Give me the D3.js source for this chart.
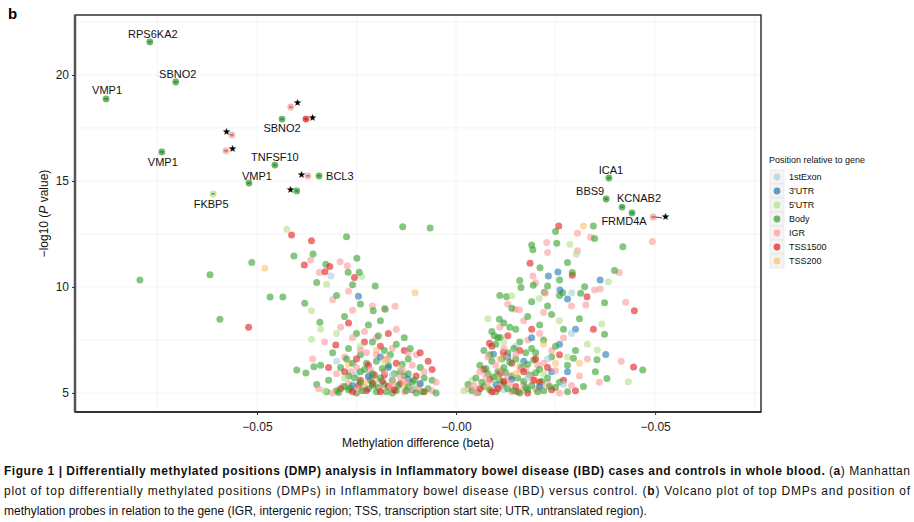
<!DOCTYPE html>
<html><head><meta charset="utf-8">
<script src="https://cdn.jsdelivr.net/npm/d3@7"></script>
<style>body{margin:0;background:#fff;font-family:"Liberation Sans",Arial,sans-serif}</style>
</head><body><svg id="c" width="914" height="522"></svg>
<script>
const categories=["1stExon","3'UTR","5'UTR","Body","IGR","TSS1500","TSS200"];
const colors=["#a6cee3","#1f78b4","#b2df8a","#33a02c","#fb9a99","#e31a1c","#fdbf6f"];
const xTicks=[-0.05,0,0.05];
const xTickLabels=["\u22120.05","\u22120.00","\u22120.05"];
const yTicks=[5,10,15,20];

const body=[[-0.030,5.1],[-0.028,5.3],[-0.025,5.0],[-0.022,5.2],[-0.020,5.05],[-0.018,5.4],[-0.015,5.1],[-0.012,5.3],[-0.010,5.0],[-0.007,5.2],[-0.032,5.6],[-0.027,5.8],[-0.024,5.5],[-0.021,5.9],[-0.019,5.7],[-0.016,5.6],[-0.013,5.8],[-0.011,5.5],[-0.008,5.7],[-0.029,6.2],[-0.026,6.4],[-0.023,6.1],[-0.020,6.5],[-0.017,6.3],[-0.014,6.0],[-0.012,6.6],[-0.009,6.2],[-0.031,6.9],[-0.027,7.1],[-0.024,6.8],[-0.021,7.4],[-0.018,7.0],[-0.015,7.3],[-0.013,7.6],[-0.025,7.8],[-0.022,8.2],[-0.028,8.6],[-0.019,8.4],[-0.024,9.2],[-0.030,9.6],[-0.026,10.1],[-0.035,5.4],[-0.034,6.3],[-0.006,5.6],[-0.005,5.0],[-0.016,5.0],[-0.021,5.35],[-0.027,5.15],[-0.012,5.9],[-0.024,6.0],
[-0.0134,12.84],[-0.0275,12.37],[-0.0513,11.15],[-0.0407,11.46],[-0.0359,11.56],[-0.0327,11.07],[-0.0271,10.69],[-0.0249,11.35],[-0.0243,10.69],[-0.035,10.21],[-0.0203,10.05],[-0.0467,9.53],[-0.0435,9.53],[-0.0593,8.48],[-0.038,9.23],[-0.040,6.08],[-0.0377,5.94],[-0.0357,6.23],[-0.0342,8.34],[-0.0178,8.95],[-0.0208,8.88],[-0.0794,10.33],[-0.0618,10.57],[-0.0065,12.78],
[-0.0295,5.02],[-0.0265,5.22],[-0.0235,5.1],[-0.0215,5.6],[-0.0195,5.25],[-0.0175,5.05],[-0.0145,5.35],[-0.0125,5.1],[-0.0105,5.6],[-0.0085,5.05],[-0.0255,5.7],[-0.0225,6.4],[-0.0185,6.15],[-0.0155,5.9],[-0.0135,6.35],[-0.0275,6.6],[-0.0195,7.7],[-0.0165,6.8],[-0.0115,7.1],[-0.0325,5.05],
[0.004,5.1],[0.007,5.3],[0.010,5.05],[0.013,5.2],[0.016,5.0],[0.019,5.35],[0.022,5.1],[0.025,5.25],[0.028,5.05],[0.005,5.7],[0.008,5.9],[0.011,5.6],[0.014,5.8],[0.017,5.55],[0.020,5.95],[0.023,5.7],[0.026,5.5],[0.006,6.3],[0.009,6.5],[0.012,6.2],[0.015,6.6],[0.018,6.35],[0.021,6.1],[0.024,6.7],[0.028,6.3],[0.007,7.0],[0.010,7.3],[0.013,6.9],[0.016,7.4],[0.019,7.1],[0.022,7.5],[0.025,7.2],[0.030,7.0],[0.009,7.9],[0.012,8.3],[0.015,8.0],[0.018,8.6],[0.021,8.2],[0.024,8.7],[0.014,9.0],[0.019,9.3],[0.032,5.3],[0.035,6.0],[0.003,5.4],[0.012,5.45],[0.018,5.15],[0.020,6.9],[0.027,8.0],[0.031,8.5],[0.011,9.6],[0.023,9.1],[0.016,10.3],[0.026,9.6],
[0.0055,5.02],[0.0085,5.15],[0.0115,5.35],[0.0145,5.1],[0.0175,5.25],[0.0205,5.05],[0.0235,5.3],[0.0065,5.5],[0.0095,5.75],[0.0125,5.95],[0.0155,5.7],[0.0185,5.85],[0.0215,5.55],[0.0075,6.15],[0.0105,6.0],[0.0135,6.45],[0.0165,6.2],[0.0195,6.55],[0.0085,6.8],[0.0115,6.6],[0.0145,7.1],[0.0175,6.9],[0.0105,7.6],[0.0135,8.1],
[0.0345,12.88],[0.025,12.61],[0.0348,12.28],[0.0419,11.9],[0.0253,12.06],[0.019,11.98],[0.0193,11.75],[0.0211,10.91],[0.028,11.15],[0.0292,10.68],[0.0398,10.77],[0.026,10.33],[0.0194,10.08],[0.0163,9.97],[0.023,10.05],[0.0323,10.01],[0.0222,9.75],[0.0268,9.73],[0.0127,9.54],[0.0313,9.7],[0.0109,8.48],[0.0373,9.26],[0.0373,7.77],[0.0469,6.08],[0.0379,5.68],[0.0354,6.56],[0.0295,6.64],[0.0096,7.7],[0.0111,7.61]];
const igr=[[-0.031,5.0],[-0.027,5.45],[-0.023,5.25],[-0.019,5.15],[-0.016,5.5],[-0.013,5.05],[-0.009,5.4],[-0.006,5.1],[-0.030,5.9],[-0.025,6.2],[-0.022,5.7],[-0.018,6.0],[-0.014,5.75],[-0.011,6.3],[-0.008,6.0],[-0.028,6.7],[-0.024,7.0],[-0.020,6.8],[-0.016,7.1],[-0.012,6.9],[-0.026,7.6],[-0.023,7.9],[-0.020,7.6],[-0.029,8.1],[-0.026,8.9],[-0.021,9.1],[-0.031,9.4],[-0.027,9.8],[-0.033,7.4],[-0.036,6.6],[-0.005,5.5],[-0.010,6.8],[-0.015,8.0],[-0.018,9.0],
[-0.0285,5.3],[-0.0245,5.15],[-0.0205,5.4],[-0.0165,5.25],[-0.0125,5.55],[-0.0095,5.2],[-0.0265,6.0],[-0.0215,6.1],[-0.0175,6.6],[-0.0135,6.1],[-0.0225,6.9],[-0.0345,5.2],
[-0.0365,11.27],[-0.0343,10.68],[-0.0291,11.19],[-0.0273,11.0],[-0.0153,9.09],
[0.005,5.0],[0.008,5.5],[0.011,5.3],[0.014,5.05],[0.017,5.4],[0.020,5.2],[0.023,5.45],[0.026,5.0],[0.029,5.35],[0.006,6.0],[0.010,6.3],[0.013,5.75],[0.016,6.1],[0.019,5.8],[0.022,6.4],[0.025,6.05],[0.031,5.8],[0.008,6.7],[0.012,7.1],[0.015,6.8],[0.018,7.5],[0.021,7.8],[0.024,7.0],[0.027,7.6],[0.033,6.6],[0.011,8.1],[0.017,8.4],[0.022,8.8],[0.029,9.1],[0.013,9.2],[0.003,5.2],[0.036,5.5],[0.020,10.2],
[0.0045,5.35],[0.0095,5.05],[0.0135,5.45],[0.0165,5.1],[0.0215,5.3],[0.0075,5.8],[0.0115,6.05],[0.0175,6.1],[0.0205,6.3],[0.0125,6.7],
[0.0305,12.53],[0.0338,12.34],[0.0493,12.14],[0.0228,12.1],[0.023,11.62],[0.0305,11.71],[0.041,10.68],[0.0193,10.52],[0.0348,9.86],[0.0362,9.9],[0.0224,9.7],[0.0326,9.15],[0.0426,9.28],[0.0148,8.95],[0.0159,8.92],[0.0415,6.49]];
const tss1500=[[-0.029,5.2],[-0.026,5.05],[-0.024,5.6],[-0.021,5.45],[-0.019,5.05],[-0.017,5.3],[-0.014,5.45],[-0.011,5.15],[-0.008,5.05],[-0.028,6.0],[-0.022,6.3],[-0.018,5.85],[-0.015,6.4],[-0.010,5.8],[-0.007,6.5],[-0.025,6.6],[-0.019,7.2],[-0.013,7.0],[-0.009,6.9],[-0.023,7.4],[-0.017,7.8],[-0.027,8.3],[-0.032,6.2],[-0.006,6.1],
[-0.0225,5.1],[-0.0185,5.55],[-0.0155,5.15],[-0.0205,5.85],[-0.0245,5.35],
[-0.0413,12.45],[-0.0363,12.18],[-0.0381,11.04],[-0.0317,10.96],[-0.0329,10.72],[-0.0255,10.45],[-0.0521,8.1],[-0.0302,7.26],
[0.006,5.2],[0.009,5.05],[0.012,5.55],[0.015,5.3],[0.018,5.0],[0.021,5.5],[0.024,5.15],[0.027,5.6],[0.007,6.1],[0.011,5.9],[0.014,6.4],[0.017,6.0],[0.020,6.6],[0.023,6.2],[0.009,7.2],[0.016,7.0],[0.026,6.8],[0.013,7.7],[0.030,5.1],[0.019,8.0],
[0.0105,5.2],[0.0155,5.05],[0.0195,5.6],[0.0085,5.65],
[0.0258,12.88],[0.0186,11.12],[0.0292,10.55],[0.0329,9.54],[0.0448,8.88],[0.0345,8.0],[0.0446,6.22],[0.0084,7.34],[0.0119,6.92]];
const utr5=[[-0.033,5.1],[-0.028,5.7],[-0.020,5.6],[-0.014,6.2],[-0.024,7.2],[-0.030,7.8],[-0.017,6.6],[-0.010,5.3],[-0.034,8.0],
[-0.0425,12.72],[-0.0237,10.49],[-0.0325,10.13],[-0.0363,8.88],[-0.0363,7.53],
[0.002,5.1],[0.004,5.6],[0.010,5.75],[0.016,6.3],[0.022,5.9],[0.028,6.7],[0.012,7.4],[0.033,7.3],[0.026,8.4],[0.008,8.5],
[0.0286,12.01],[0.0302,11.54],[0.0383,10.25],[0.014,9.58],[0.0209,9.45],[0.0366,8.25],[0.0433,5.53],[0.0355,7.03]];
const utr3=[[-0.022,5.8],[-0.017,6.2],[-0.026,5.35],[-0.012,5.65],[-0.019,6.7],[-0.009,5.45],[-0.0245,9.56],
[0.010,5.4],[0.014,5.65],[0.017,6.5],[0.021,5.3],[0.024,6.0],[0.019,7.6],[0.028,6.0],[0.013,6.7],[0.026,7.3],[0.030,8.0],
[0.0256,10.71],[0.0232,10.52],[0.0362,10.33],[0.0261,9.86],[0.028,9.43],[0.0376,6.81],[0.0094,6.82]];
const exon1=[[-0.025,5.9],[-0.016,5.85],[-0.030,6.5],[-0.011,5.2],[-0.0314,10.52],
[0.012,5.15],[0.018,5.7],[0.023,6.6],[0.027,5.4],[0.015,7.2],[0.029,7.8],[0.0291,9.73]];
const tss200=[[-0.023,5.5],[-0.018,6.5],[-0.027,6.35],[-0.013,5.35],[-0.020,7.0],[-0.048,10.88],[-0.0103,9.73],
[0.008,5.25],[0.015,5.9],[0.020,5.6],[0.025,6.4],[0.011,6.6],[0.022,7.3],[0.031,6.4],[0.032,12.88]];

const labelled=[
 {g:"RPS6KA2",c:"Body",x:-0.0769,y:21.56},
 {g:"SBNO2",c:"Body",x:-0.0704,y:19.67},
 {g:"VMP1",c:"Body",x:-0.0879,y:18.87},
 {g:"",c:"IGR",x:-0.0415,y:18.49,star:1},
 {g:"",c:"TSS1500",x:-0.0377,y:17.92,star:1},
 {g:"SBNO2",c:"Body",x:-0.0437,y:17.92},
 {g:"",c:"IGR",x:-0.0563,y:17.17,star:1},
 {g:"",c:"IGR",x:-0.0578,y:16.42,star:1},
 {g:"VMP1",c:"Body",x:-0.0739,y:16.37},
 {g:"TNFSF10",c:"Body",x:-0.0455,y:15.75},
 {g:"VMP1",c:"Body",x:-0.0520,y:14.90},
 {g:"",c:"IGR",x:-0.0372,y:15.24,star:1},
 {g:"BCL3",c:"Body",x:-0.0344,y:15.24},
 {g:"",c:"Body",x:-0.0400,y:14.53,star:1},
 {g:"FKBP5",c:"5'UTR",x:-0.0610,y:14.39},
 {g:"ICA1",c:"Body",x:0.0384,y:15.14},
 {g:"BBS9",c:"Body",x:0.0377,y:14.15},
 {g:"KCNAB2",c:"Body",x:0.0417,y:13.77},
 {g:"FRMD4A",c:"Body",x:0.0442,y:13.49},
 {g:"",c:"IGR",x:0.0495,y:13.30,star:1}];
const labelOff=[[3,-8],[2,-8],[1,-9],null,null,[0,9],null,null,[1,10],[0,-8],[8,-7],null,[7,0],null,[-2,10],[2,-8],[-16,-8],[17,-9],[-8,8],null];
const starOff=[null,null,null,[7,-4],[7,-2],null,[-5,-3],[7,-2],null,null,null,[-6,-1],null,[-6,-1],null,null,null,null,null,[12,0]];

const svg=d3.select("#c");
const L=75,R=761,T=15,B=412;
const x=d3.scaleLinear().domain([-0.0957,0.0766]).range([L,R]);
const y=d3.scaleLinear().domain([4.1,22.83]).range([B,T]);
const col=d3.scaleOrdinal().domain(categories).range(colors);

svg.append("text").attr("x",8).attr("y",19).attr("font-weight","bold").attr("font-size",15).text("b");
const grid=svg.append("g").attr("stroke","#ececec").attr("stroke-width",0.6);
[-0.075,-0.05,-0.025,0,0.025,0.05,0.075].forEach(v=>grid.append("line").attr("x1",x(v)).attr("x2",x(v)).attr("y1",T).attr("y2",B));
[5,7.5,10,12.5,15,17.5,20,22.5].forEach(v=>grid.append("line").attr("y1",y(v)).attr("y2",y(v)).attr("x1",L).attr("x2",R));

const groups={"1stExon":exon1,"3'UTR":utr3,"5'UTR":utr5,"Body":body,"IGR":igr,"TSS1500":tss1500,"TSS200":tss200};
const order=["IGR","Body","TSS1500","5'UTR","3'UTR","1stExon","TSS200"];
const all=[];
order.forEach(k=>groups[k].forEach(d=>all.push({c:k,x:d[0],y:d[1]})));
all.sort((a,b)=>((a.x*7919+a.y*104729)%1)-((b.x*7919+b.y*104729)%1));
svg.append("g").selectAll("circle").data(all).join("circle")
 .attr("cx",d=>x(d.x)).attr("cy",d=>y(d.y)).attr("r",3.5)
 .attr("fill",d=>col(d.c)).attr("fill-opacity",0.6);

const lg=svg.append("g");
labelled.forEach((d,i)=>{
 const px=x(d.x),py=y(d.y);
 lg.append("circle").attr("cx",px).attr("cy",py).attr("r",3.4).attr("fill",col(d.c)).attr("fill-opacity",0.75);
 lg.append("line").attr("x1",px-1.5).attr("x2",px+1.5).attr("y1",py).attr("y2",py).attr("stroke","#222").attr("stroke-width",0.7);
 if(labelOff[i]) lg.append("text").attr("x",px+labelOff[i][0]).attr("y",py+labelOff[i][1]).attr("dy","0.35em")
   .attr("text-anchor",d.g==="BCL3"?"start":"middle").attr("font-size",11).attr("fill","#111").text(d.g);
 if(starOff[i]){
   if(i===19) lg.append("line").attr("x1",px+2).attr("x2",px+9).attr("y1",py).attr("y2",py+1).attr("stroke","#222").attr("stroke-width",0.8);
   lg.append("text").attr("x",px+starOff[i][0]).attr("y",py+starOff[i][1]).attr("dy","0.35em").attr("text-anchor","middle").attr("font-size",10).attr("fill","#000").text("\u2605");
 }
});

svg.append("rect").attr("x",L).attr("y",T).attr("width",R-L).attr("height",B-T).attr("fill","none").attr("stroke","#333").attr("stroke-width",1.5);
svg.append("line").attr("x1",L).attr("x2",L).attr("y1",T).attr("y2",B).attr("stroke","#555").attr("stroke-width",2.5);
svg.append("line").attr("x1",L).attr("x2",R).attr("y1",B).attr("y2",B).attr("stroke","#333").attr("stroke-width",2);
const xa=svg.append("g").attr("transform",`translate(0,${B})`).call(d3.axisBottom(x).tickValues(xTicks).tickSize(3).tickFormat((d,i)=>xTickLabels[i]));
const ya=svg.append("g").attr("transform",`translate(${L},0)`).call(d3.axisLeft(y).tickValues(yTicks).tickSize(3));
[xa,ya].forEach(a=>{a.select(".domain").remove();a.selectAll("text").attr("font-size",12).attr("fill","#222").attr("font-family","Liberation Sans, Arial");a.selectAll("line").attr("stroke","#333");});
xa.selectAll("text").attr("dy","1.1em");
svg.append("text").attr("x",(L+R)/2).attr("y",447).attr("text-anchor","middle").attr("font-size",12).attr("fill","#111").text("Methylation difference (beta)");
const yt=svg.append("text").attr("transform",`translate(48,${(T+B)/2}) rotate(-90)`).attr("text-anchor","middle").attr("font-size",12).attr("fill","#111");
yt.append("tspan").text("\u2212log10 (");yt.append("tspan").attr("font-style","italic").text("P");yt.append("tspan").text(" value)");

const lgd=svg.append("g").attr("transform","translate(769,160)");
lgd.append("text").attr("x",0).attr("y",3).attr("font-size",9).attr("fill","#111").text("Position relative to gene");
categories.forEach((c,i)=>{
 const gy=10+i*14;
 lgd.append("rect").attr("x",1).attr("y",gy).attr("width",14).attr("height",14).attr("fill","#f4f4f4").attr("stroke","#e2e2e2").attr("stroke-width",0.6);
 lgd.append("circle").attr("cx",8).attr("cy",gy+7).attr("r",3.4).attr("fill",colors[i]).attr("fill-opacity",0.7);
 lgd.append("text").attr("x",20).attr("y",gy+7).attr("dy","0.35em").attr("font-size",9).attr("fill","#111").text(c);
});

const cap=svg.append("g").attr("font-size",12).attr("fill","#111");
const l1=cap.append("text").attr("x",4).attr("y",475).attr("textLength",906).attr("lengthAdjust","spacing");
l1.append("tspan").attr("font-weight","bold").text("Figure 1 | Differentially methylated positions (DMP) analysis in Inflammatory bowel disease (IBD) cases and controls in whole blood.");
l1.append("tspan").text(" (");l1.append("tspan").attr("font-weight","bold").text("a");l1.append("tspan").text(") Manhattan");
const l2=cap.append("text").attr("x",4).attr("y",495).attr("textLength",906).attr("lengthAdjust","spacing");
l2.append("tspan").text("plot of top differentially methylated positions (DMPs) in Inflammatory bowel disease (IBD) versus control. (");
l2.append("tspan").attr("font-weight","bold").text("b");l2.append("tspan").text(") Volcano plot of top DMPs and position of");
cap.append("text").attr("x",4).attr("y",515).text("methylation probes in relation to the gene (IGR, intergenic region; TSS, transcription start site; UTR, untranslated region).");
</script></body></html>
